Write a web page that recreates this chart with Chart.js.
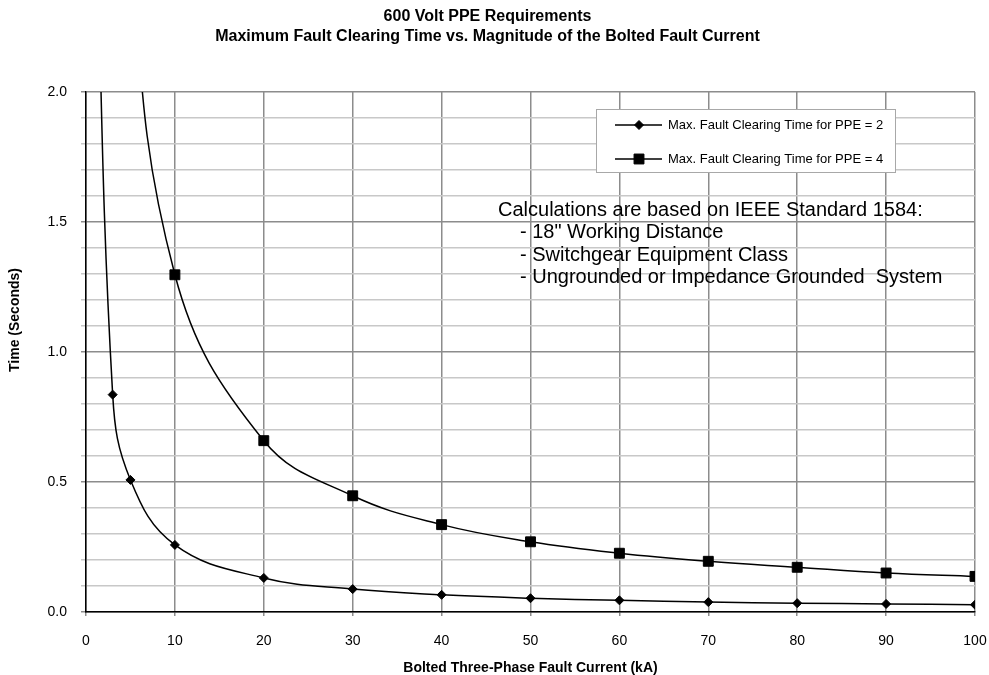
<!DOCTYPE html>
<html>
<head>
<meta charset="utf-8">
<title>600 Volt PPE Requirements</title>
<script src="https://cdn.jsdelivr.net/npm/chart.js@4.4.1/dist/chart.umd.min.js"></script>
<style>
  html, body { margin: 0; padding: 0; background: #fff; }
  canvas { display: block; }
</style>
</head>
<body>
<canvas id="chart" width="989" height="675"></canvas>
<script>
(() => {
  "use strict";

  const FONT = '"Liberation Sans", Arial, Helvetica, sans-serif';

  // Data (kA vs seconds); first points sit above the 2.0 s axis limit
  const faultCurrent = [1, 3, 5, 10, 20, 30, 40, 50, 60, 70, 80, 90, 100];
  const timePPE2 = [2.9, 0.836, 0.508, 0.258, 0.131, 0.088, 0.066, 0.053, 0.045, 0.038, 0.034, 0.031, 0.028];
  const timePPE4 = [13.0, 4.33, 2.6, 1.297, 0.659, 0.447, 0.336, 0.27, 0.226, 0.195, 0.172, 0.150, 0.137];
  const seriesLabels = ["Max. Fault Clearing Time for PPE = 2", "Max. Fault Clearing Time for PPE = 4"];
  const seriesMarkers = ["rectRot", "rect"];
  const titleLines = ["600 Volt PPE Requirements", "Maximum Fault Clearing Time vs. Magnitude of the Bolted Fault Current"];
  const xTitle = "Bolted Three-Phase Fault Current (kA)";
  const yTitle = "Time (Seconds)";
  const noteLines = [
    "Calculations are based on IEEE Standard 1584:",
    "- 18\" Working Distance",
    "- Switchgear Equipment Class",
    "- Ungrounded or Impedance Grounded  System"
  ];

  const toPoints = (ys) => faultCurrent.map((x, i) => ({ x, y: ys[i] }));
  const isMajor = (v) => Math.abs(v * 2 - Math.round(v * 2)) < 1e-6;

  const MAJOR = "#8c8c8c", MINOR = "#c8c8c8";

  const series = [timePPE2, timePPE4].map((ys, i) => ({
    label: seriesLabels[i],
    data: toPoints(ys),
    borderColor: "#000",
    backgroundColor: "#000",
    borderWidth: 1.5,
    pointStyle: seriesMarkers[i],
    pointRadius: i === 0 ? 4.5 : 7,
    pointBorderWidth: 1,
    pointHoverRadius: i === 0 ? 4.5 : 7,
    tension: 0.4,
    fill: false
  }));

  // Legend box, note text and rotated y title drawn on top of the plot
  const extras = {
    id: "extras",
    afterDraw(chart) {
      const { ctx } = chart;
      ctx.save();

      // y axis title
      ctx.save();
      ctx.translate(15, 320);
      ctx.rotate(-Math.PI / 2);
      ctx.font = "bold 14px " + FONT;
      ctx.fillStyle = "#000";
      ctx.textAlign = "center";
      ctx.textBaseline = "middle";
      ctx.fillText(yTitle, 0, 0);
      ctx.restore();

      // legend
      const bx = 596, by = 109, bw = 300, bh = 64;
      ctx.fillStyle = "#fff";
      ctx.fillRect(bx, by, bw, bh);
      ctx.strokeStyle = "#a8a8a8";
      ctx.lineWidth = 1;
      ctx.strokeRect(bx + 0.5, by + 0.5, bw - 1, bh - 1);
      chart.data.datasets.forEach((ds, i) => {
        const y = by + 16 + i * 34;
        ctx.strokeStyle = "#000";
        ctx.lineWidth = 1.5;
        ctx.beginPath();
        ctx.moveTo(bx + 19, y);
        ctx.lineTo(bx + 66, y);
        ctx.stroke();
        ctx.fillStyle = "#000";
        ctx.lineWidth = 1;
        Chart.helpers.drawPoint(ctx, { pointStyle: ds.pointStyle, radius: ds.pointRadius, borderWidth: 1, rotation: 0 }, bx + 43, y);
        ctx.font = "13px " + FONT;
        ctx.textAlign = "left";
        ctx.textBaseline = "middle";
        ctx.fillText(ds.label, bx + 72, y + 0.5);
      });

      // note
      ctx.fillStyle = "#000";
      ctx.font = "20px " + FONT;
      ctx.textAlign = "left";
      ctx.textBaseline = "middle";
      noteLines.forEach((t, i) => {
        ctx.fillText(t, i === 0 ? 498 : 520, 210 + i * 22.6);
      });

      ctx.restore();
    }
  };

  new Chart(document.getElementById("chart"), {
    type: "line",
    data: { datasets: series },
    plugins: [extras],
    options: {
      responsive: false,
      animation: false,
      events: [],
      layout: { padding: { left: 0, right: 14, top: 0, bottom: 0 } },
      plugins: {
        legend: { display: false },
        tooltip: { enabled: false },
        title: {
          display: true,
          text: titleLines,
          color: "#000",
          font: { family: FONT, size: 16, weight: "bold", lineHeight: 1.25 },
          padding: { top: 7, bottom: 45 }
        }
      },
      scales: {
        x: {
          type: "linear",
          min: 0,
          max: 100,
          ticks: { stepSize: 10, color: "#000", padding: 17, font: { family: FONT, size: 14 }, maxRotation: 0 },
          grid: { color: MAJOR, lineWidth: 1.5, tickLength: 4, tickColor: MAJOR },
          border: { color: "#000", width: 1.5 },
          title: { display: true, text: xTitle, color: "#000", padding: 0, font: { family: FONT, size: 14, weight: "bold", lineHeight: 1 } },
          afterFit(s) { s.height = 63; s.paddingLeft = 0; s.paddingRight = 0; }
        },
        y: {
          min: 0,
          max: 2,
          ticks: {
            stepSize: 0.1,
            autoSkip: false,
            color: "#000",
            padding: 14,
            font: { family: FONT, size: 14 },
            callback: (v) => (isMajor(v) ? v.toFixed(1) : "")
          },
          grid: {
            color: (c) => (isMajor(c.tick.value) ? MAJOR : MINOR),
            tickColor: (c) => (isMajor(c.tick.value) ? MAJOR : MINOR),
            lineWidth: 1.5,
            tickLength: 5
          },
          border: { color: "#000", width: 1.5 },
          afterFit(s) { s.width = 86; }
        }
      }
    }
  });
})();
</script>
</body>
</html>
